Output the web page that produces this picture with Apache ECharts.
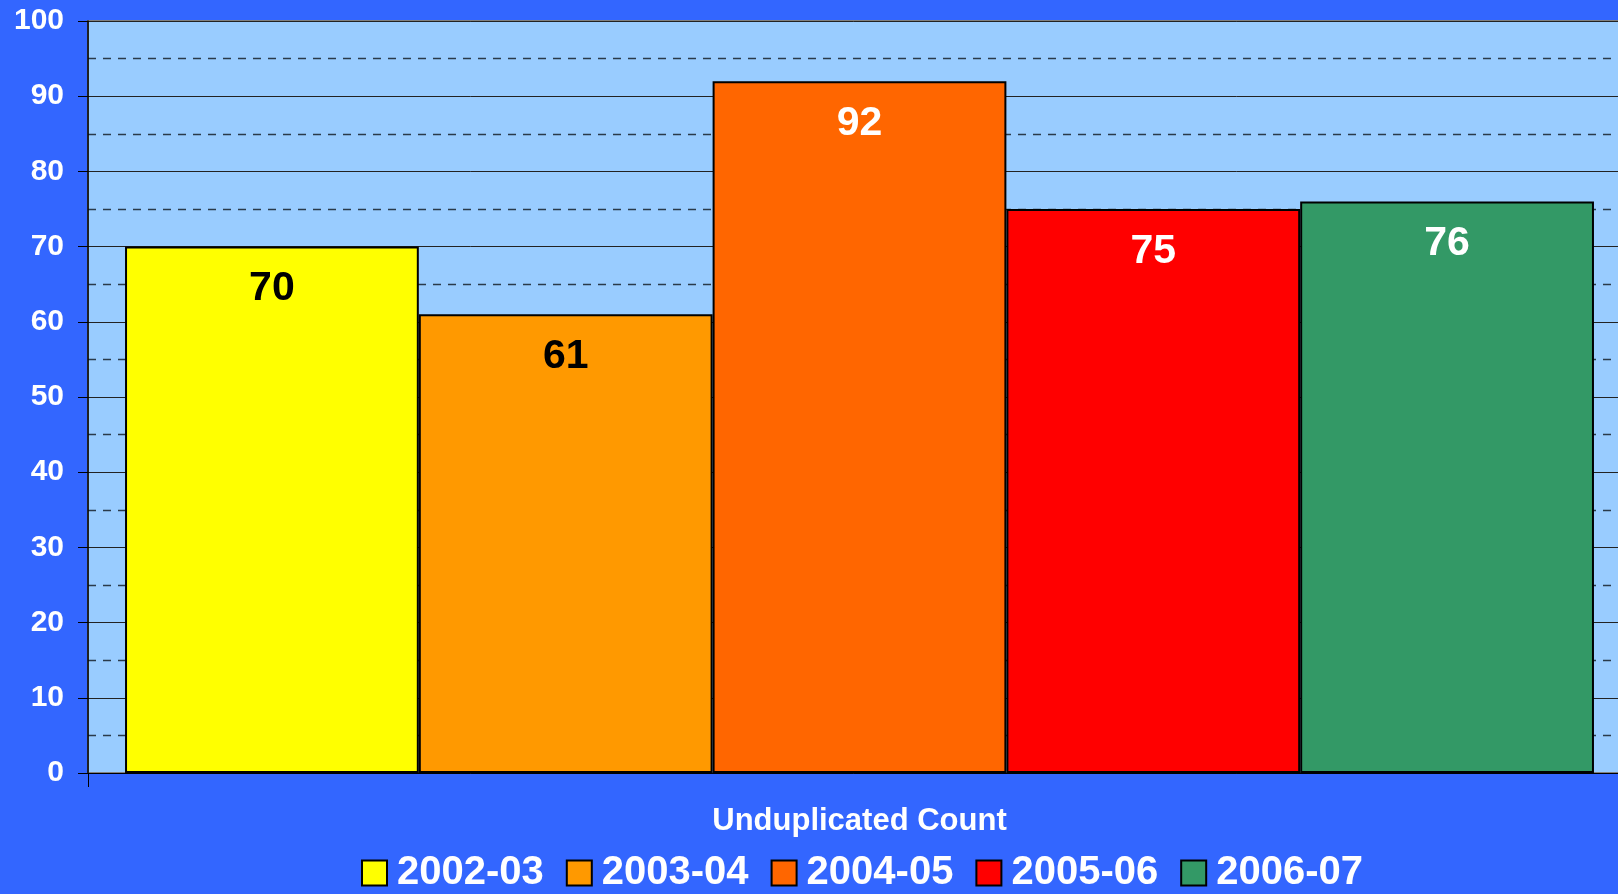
<!DOCTYPE html>
<html>
<head>
<meta charset="utf-8">
<script src="https://cdn.jsdelivr.net/npm/echarts@6/dist/echarts.min.js"></script>
<style>
  html, body { margin: 0; padding: 0; background: #3366FF; }
  #chart { width: 1618px; height: 894px; }
</style>
</head>
<body>
<div id="chart"></div>
<script>
// Data
const categories = ['Unduplicated Count'];
const seasons = ['2002-03', '2003-04', '2004-05', '2005-06', '2006-07'];
const counts = [70, 61, 92, 75, 76];
const barColors = ['#FFFF00', '#FF9900', '#FF6600', '#FF0000', '#339966'];
const labelColors = ['#000000', '#000000', '#FFFFFF', '#FFFFFF', '#FFFFFF'];

const font = '"Liberation Sans", Arial, sans-serif';

const chart = echarts.init(document.getElementById('chart'));

const series = seasons.map((name, i) => ({
    name: name,
    type: 'bar',
    data: [counts[i]],
    barGap: '0%',
    barCategoryGap: '4.8%',
    itemStyle: {
        color: barColors[i],
        borderColor: '#000000',
        borderWidth: 2
    },
    label: {
        show: true,
        position: 'insideTop',
        distance: 22,
        color: labelColors[i],
        fontFamily: font,
        fontWeight: 'bold',
        fontSize: 41
    },
    emphasis: { disabled: true },
    animation: false
}));

chart.setOption({
    backgroundColor: '#3366FF',
    animation: false,
    grid: {
        left: 88,
        width: 1543,
        top: 21,
        bottom: 121,
        outerBoundsMode: 'none',
        containLabel: false,
        show: true,
        backgroundColor: '#99CCFF',
        borderColor: '#808080',
        borderWidth: 2
    },
    legend: {
        data: seasons,
        left: 361,
        top: 853,
        padding: 0,
        icon: 'rect',
        itemWidth: 25,
        itemHeight: 25,
        itemGap: 22,
        textStyle: {
            color: '#FFFFFF',
            fontFamily: font,
            fontWeight: 'bold',
            fontSize: 40,
            padding: [0, 0, 0, 5]
        }
    },
    xAxis: {
        type: 'category',
        data: categories,
        axisLine: { show: true, lineStyle: { color: '#000000', width: 1 } },
        axisTick: { show: true, length: 14, lineStyle: { color: '#000000' } },
        axisLabel: {
            color: '#FFFFFF',
            fontFamily: font,
            fontWeight: 'bold',
            fontSize: 31,
            margin: 33
        }
    },
    yAxis: {
        type: 'value',
        min: 0,
        max: 100,
        interval: 10,
        axisLine: { show: true, lineStyle: { color: '#000000', width: 1.5 } },
        axisTick: { show: true, length: 10, lineStyle: { color: '#000000' } },
        axisLabel: {
            color: '#FFFFFF',
            fontFamily: font,
            fontWeight: 'bold',
            fontSize: 30,
            margin: 24
        },
        splitLine: { show: true, lineStyle: { color: '#222222', width: 1 } },
        minorTick: { show: false, splitNumber: 2 },
        minorSplitLine: {
            show: true,
            lineStyle: { color: '#2A3A4A', width: 1.3, type: [8, 7] }
        }
    },
    series: series
});
</script>
</body>
</html>
